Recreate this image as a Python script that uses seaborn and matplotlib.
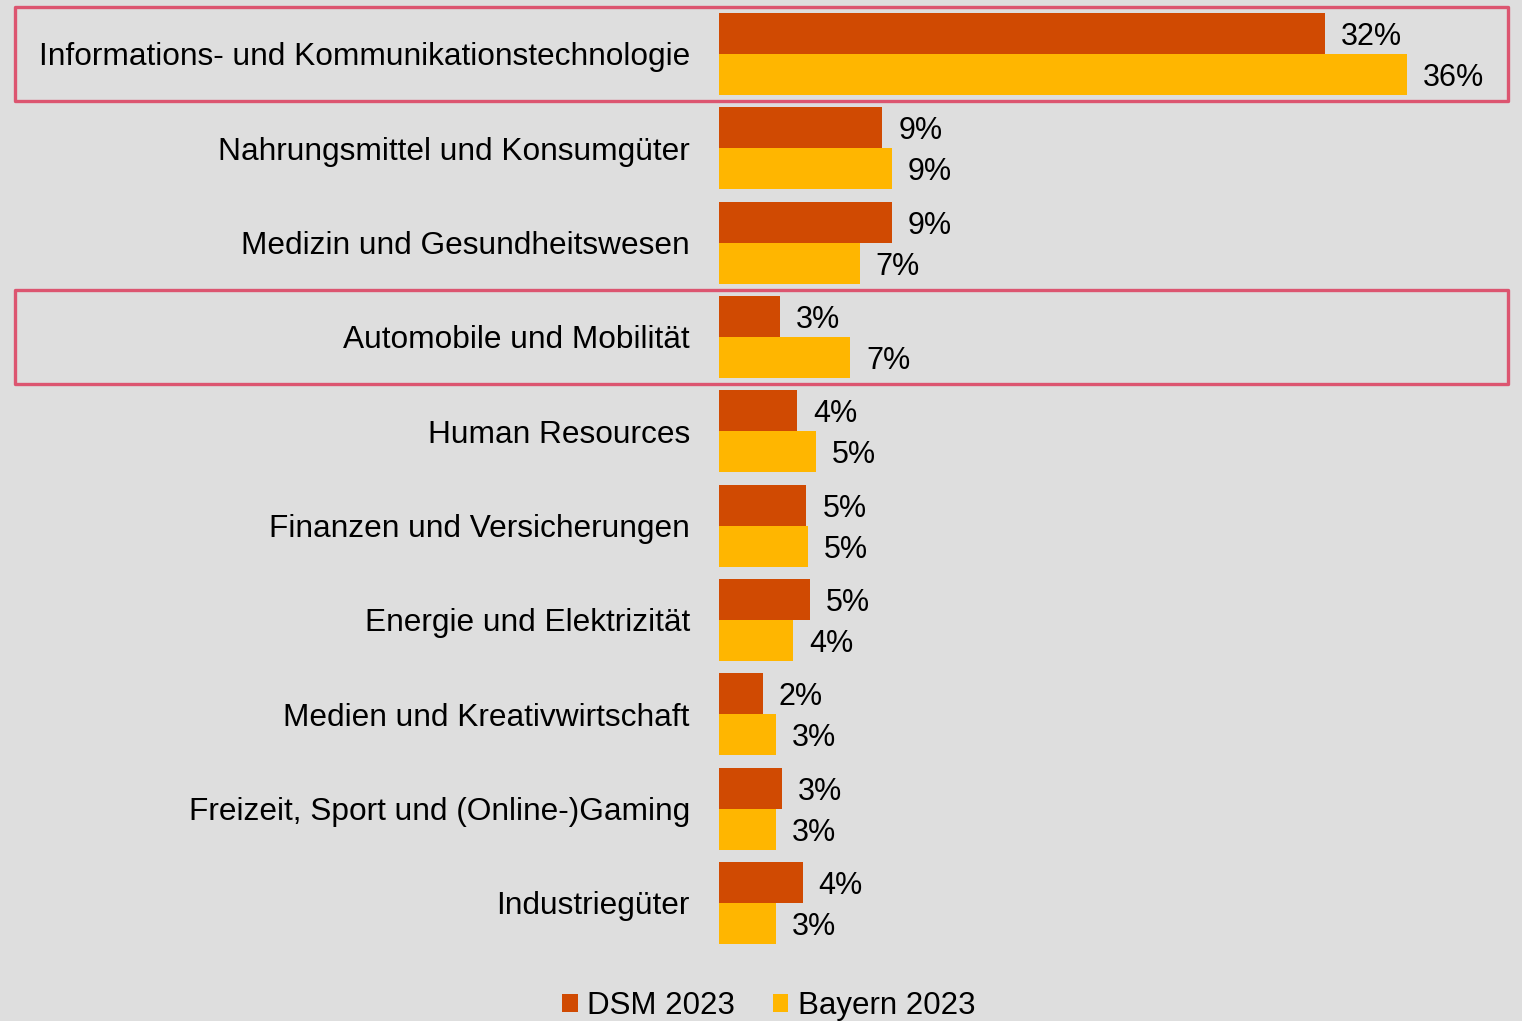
import pandas as pd
import numpy as np
import matplotlib.pyplot as plt
import matplotlib.transforms as mtransforms
from matplotlib.patches import Rectangle, Patch
import seaborn as sns

# data (bar lengths), labels are rounded
categories = [
    "Informations- und Kommunikationstechnologie",
    "Nahrungsmittel und Konsumgüter",
    "Medizin und Gesundheitswesen",
    "Automobile und Mobilität",
    "Human Resources",
    "Finanzen und Versicherungen",
    "Energie und Elektrizität",
    "Medien und Kreativwirtschaft",
    "Freizeit, Sport und (Online-)Gaming",
    "Industriegüter",
]
dsm_2023 = [31.9, 8.6, 9.1, 3.2, 4.1, 4.6, 4.8, 2.3, 3.3, 4.4]
bayern_2023 = [36.2, 9.1, 7.4, 6.9, 5.1, 4.7, 3.9, 3.0, 3.0, 3.0]
series = ["DSM 2023", "Bayern 2023"]
highlighted = [0, 3]

colors = {"DSM 2023": "#d04a02", "Bayern 2023": "#ffb600"}
bg = "#dedede"

df = pd.DataFrame({
    "Kategorie": categories * 2,
    "Anteil": dsm_2023 + bayern_2023,
    "Serie": [series[0]] * len(categories) + [series[1]] * len(categories),
})

sns.set_theme(style="white")
plt.rcParams['font.family'] = ['Liberation Sans', 'DejaVu Sans']

fig = plt.figure(figsize=(15.22, 10.21), dpi=100, facecolor=bg)
ax = fig.add_axes([719 / 1522, 0, 1 - 719 / 1522, 1])
ax.set_facecolor(bg)

sns.barplot(data=df, y="Kategorie", x="Anteil", hue="Serie", orient="h",
            palette=colors, width=0.87, gap=0, saturation=1, linewidth=0,
            legend=False, ax=ax)

for cont in ax.containers:
    vals = cont.datavalues
    txts = ax.bar_label(cont, labels=["{:.0f}%".format(v) for v in vals],
                        padding=11.5, fontsize=22, color="black")
    for t in txts:
        t.set_va("center_baseline")

ax.set_xlim(0, 803 / 19)
ax.set_ylim((1021 - 54) / 94.33, -54 / 94.33)
ax.set_xlabel("")
ax.set_ylabel("")
ax.set_xticks([])
ax.tick_params(axis="y", length=0, pad=21, labelsize=22.8, labelcolor="black")
sns.despine(ax=ax, left=True, bottom=True)

# red boxes around the highlighted categories
trans = mtransforms.blended_transform_factory(fig.transFigure, ax.transData)
for i in highlighted:
    r = Rectangle((15 / 1522, i - 0.5), (1508 - 15) / 1522, 1.0, transform=trans,
                  fill=False, edgecolor="#dc5570", lw=2.4, clip_on=False,
                  joinstyle="round")
    fig.add_artist(r)

handles = [Patch(facecolor=colors[s], edgecolor="none", label=s) for s in series]
fig.legend(handles=handles, loc="center", bbox_to_anchor=(0.505, 0.0147), ncol=2,
           frameon=False, fontsize=22.5, handlelength=0.5, handleheight=0.5,
           handletextpad=0.3, columnspacing=1.2, borderpad=0, labelcolor="black")

fig.savefig("out.png", dpi=100, facecolor=bg)
